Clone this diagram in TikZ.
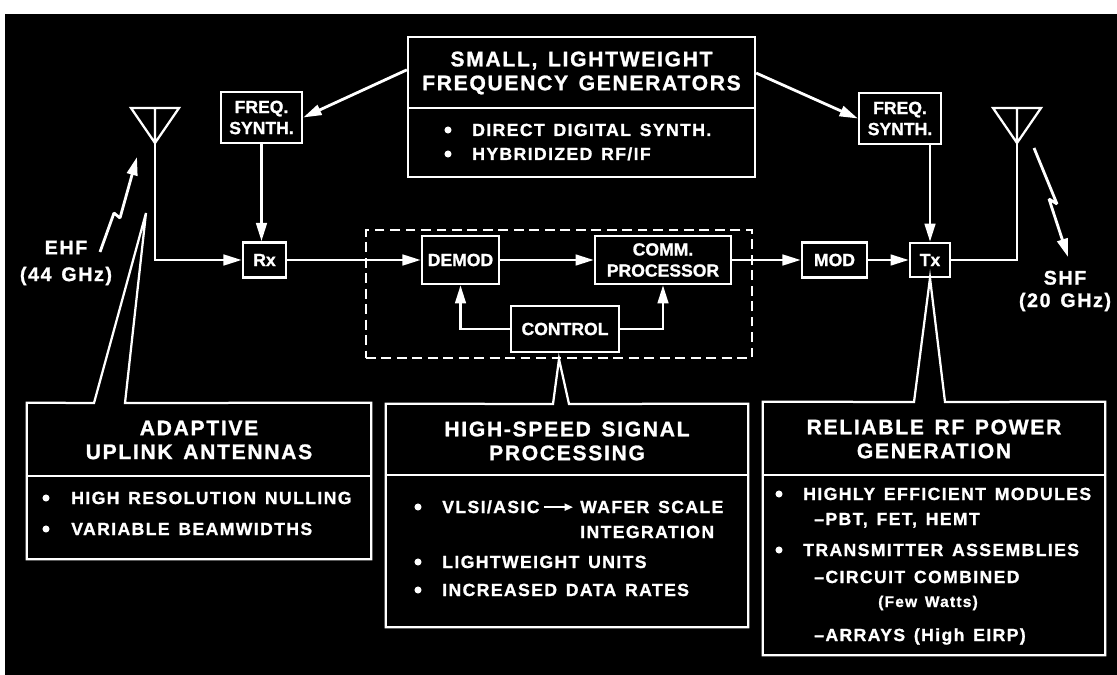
\documentclass[tikz,border=0pt]{standalone}
\usepackage{fontspec}
\setmainfont{Liberation Sans}[BoldFeatures={FakeBold=1.2}]
\newfontfamily\spaced[LetterSpace=8,WordSpace=1.4,BoldFeatures={FakeBold=1.2}]{Liberation Sans}
\usetikzlibrary{arrows.meta,positioning}

\tikzset{
  blk/.style={draw,line width=1.6pt,inner sep=0pt,align=center,font=\fontsize{12.5}{15}\selectfont\bfseries},
  hdr/.style={align=center,inner sep=0pt,font=\spaced\fontsize{15}{17}\selectfont\bfseries},
  itm/.style={anchor=base west,inner sep=0pt,font=\spaced\fontsize{12.5}{15}\selectfont\bfseries},
  bul/.style={circle,fill=white,inner sep=0pt,minimum size=5pt},
  frm/.style={line width=1.6pt},
  wire/.style={line width=2pt},
  arr/.style={wire,-{Triangle[length=13pt,width=7.5pt]}},
}

\begin{document}
\begin{tikzpicture}[x=0.025cm,y=-0.025cm,white]
  \useasboundingbox (0,0) rectangle (1117,675);
  \fill[white] (0,0) rectangle (1117,675);
  \fill[black] (5,14) rectangle (1117,675);

  % frequency generators
  \node[draw,frm,minimum width=8.675cm,minimum height=3.5cm] (top) at (581.5,107) {};
  \draw[frm] (408,108) -- (755,108);
  \node[hdr] (toph) at (581.5,73) {SMALL, LIGHTWEIGHT\\FREQUENCY GENERATORS};
  \foreach \y/\t [count=\i] in {130/{DIRECT DIGITAL SYNTH.},154/{HYBRIDIZED RF/IF}}{
    \node[bul] (topb\i) at (448,\y) {};
    \node[itm] (topt\i) at (472,\y+6) {\t};
  }

  \node[blk,minimum width=2.03cm,minimum height=1.28cm] (fsl) at (261.5,117.5) {FREQ.\\SYNTH.};
  \node[blk,minimum width=2.05cm,minimum height=1.28cm] (fsr) at (900,118.5) {FREQ.\\SYNTH.};

  % signal chain
  \node[blk,minimum width=1.08cm,minimum height=0.88cm] (rx) at (264.5,260) {Rx};
  \node[draw,frm,dash pattern=on 7pt off 4pt,minimum width=9.65cm,minimum height=3.2cm] (grp) at (559,294) {};
  \node[blk,minimum width=1.93cm,minimum height=1.2cm] (demod) at (460.5,260) {DEMOD};
  \node[blk,minimum width=3.4cm,minimum height=1.2cm] (comm) at (663,260) {COMM.\\PROCESSOR};
  \node[blk,minimum width=2.7cm,minimum height=1.15cm] (ctrl) at (565,329) {CONTROL};
  \node[blk,minimum width=1.63cm,minimum height=0.88cm] (mod) at (834.5,260) {MOD};
  \node[blk,minimum width=1.0cm,minimum height=0.85cm] (tx) at (930,260) {Tx};

  % antennas
  \coordinate (antl) at (155,143);
  \coordinate (antr) at (1017,143);
  \draw[frm] (antl) -- ++(-24,-35) -- ++(48,0) -- cycle (antl) -- ++(0,-35);
  \draw[frm] (antr) -- ++(-24,-35) -- ++(48,0) -- cycle (antr) -- ++(0,-35);

  \draw[arr] (top.168.6) -- (fsl.east);
  \draw[arr] (top.11.4) -- (fsr.west);
  \draw[arr] (fsl.south) -- (fsl.south |- rx.north);
  \draw[arr] (tx.north |- fsr.south) -- (tx.north);
  \draw[arr] (antl) |- (rx.west);
  \draw[arr] (rx) -- (demod);
  \draw[arr] (demod) -- (comm);
  \draw[arr] (comm) -- (mod);
  \draw[arr] (mod) -- (tx);
  \draw[wire] (tx) -| (antr);
  \draw[arr] (ctrl) -| (demod);
  \draw[arr] (ctrl) -| (comm);

  % links
  \draw[arr,line join=bevel] (100,252) -- (114,213) -- (120,218) -- (137,157);
  \draw[arr,line join=bevel] (1034,148) -- (1057,204) -- (1049,199) -- (1068,257);
  \node[hdr,font=\spaced\fontsize{14}{19}\selectfont\bfseries] (ehf) at (66,263) {EHF\\(44 GHz)};
  \node[hdr,font=\spaced\fontsize{14}{16}\selectfont\bfseries] (shf) at (1065,291) {SHF\\(20 GHz)};

  % adaptive antennas
  \node[minimum width=8.6cm,minimum height=3.9cm] (adapt) at (199,481) {};
  \draw[frm] (94,403) -- (146,213) -- (125,403) -- (adapt.north east) -- (adapt.south east)
    -- (adapt.south west) -- (adapt.north west) -- cycle;
  \draw[frm] (27,476) -- (371,476);
  \node[hdr] (adapth) at (199,440) {ADAPTIVE\\UPLINK ANTENNAS};
  \foreach \y/\t [count=\i] in {498/{HIGH RESOLUTION NULLING},529/{VARIABLE BEAMWIDTHS}}{
    \node[bul] (adaptb\i) at (46,\y) {};
    \node[itm] (adaptt\i) at (71,\y+6) {\t};
  }

  % signal processing
  \node[minimum width=9.05cm,minimum height=5.575cm] (dsp) at (567,515.5) {};
  \draw[frm] (553,404) -- (grp.south) -- (569,404) -- (dsp.north east) -- (dsp.south east)
    -- (dsp.south west) -- (dsp.north west) -- cycle;
  \draw[frm] (386,475) -- (748,475);
  \node[hdr] (dsph) at (567,441) {HIGH-SPEED SIGNAL\\PROCESSING};
  \foreach \y [count=\i] in {507,562,590}
    \node[bul] (dspb\i) at (418,\y) {};
  \foreach \x/\y/\t [count=\i] in {442/507/{VLSI/ASIC},580/507/{WAFER SCALE},580/532/{INTEGRATION},
      442/562/{LIGHTWEIGHT UNITS},442/590/{INCREASED DATA RATES}}
    \node[itm] (dspt\i) at (\x,\y+6) {\t};
  \draw[line width=1.3pt,-{Triangle[length=6pt,width=5pt]},shorten <=3pt,shorten >=5pt]
    ([yshift=1.5pt]dspt1.mid east) -- ([yshift=1.5pt]dspt2.mid west);

  % rf power
  \node[minimum width=8.55cm,minimum height=6.325cm] (rf) at (934,528.5) {};
  \draw[frm] (914,402) -- (tx.south) -- (945,402) -- (rf.north east) -- (rf.south east)
    -- (rf.south west) -- (rf.north west) -- cycle;
  \draw[frm] (763,475) -- (1105,475);
  \node[hdr] (rfh) at (934,439) {RELIABLE RF POWER\\GENERATION};
  \foreach \y [count=\i] in {494,550}
    \node[bul] (rfb\i) at (779,\y) {};
  \foreach \x/\y/\t [count=\i] in {803/494/{HIGHLY EFFICIENT MODULES},814/519/{–PBT, FET, HEMT},
      803/550/{TRANSMITTER ASSEMBLIES},814/577/{–CIRCUIT COMBINED},814/635/{–ARRAYS (High EIRP)}}
    \node[itm] (rft\i) at (\x,\y+6) {\t};
  \node[hdr,font=\spaced\fontsize{11}{13}\selectfont\bfseries] (watts) at (928,603) {(Few Watts)};
\end{tikzpicture}
\end{document}
